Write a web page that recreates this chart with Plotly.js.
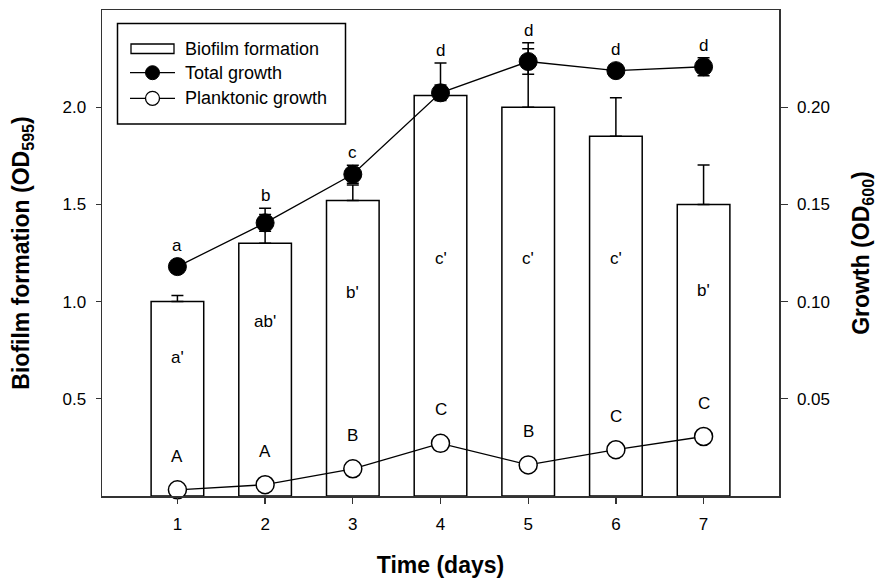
<!DOCTYPE html>
<html>
<head>
<meta charset="utf-8">
<script src="https://cdn.plot.ly/plotly-3.0.1.min.js"></script>
<style>
  html, body { margin: 0; padding: 0; background: #fff; }
  #chart { width: 877px; height: 579px; }
</style>
</head>
<body>
<div id="chart"></div>
<script>
// ---- Data ----
const days = [1, 2, 3, 4, 5, 6, 7];
const dayTickText = ['1', '2', '3', '4', '5', '6', '7'];

// Biofilm formation (OD595), left axis
const biofilm = [1.00, 1.30, 1.52, 2.06, 2.00, 1.85, 1.50];
const biofilmErr = [0.031, 0.18, 0.08, 0.168, 0.332, 0.199, 0.203];
const biofilmLetters = ["a'", "ab'", "b'", "c'", "c'", "c'", "b'"];

// Total growth (OD600), right axis
const totalGrowth = [0.118, 0.1405, 0.1655, 0.2074, 0.2235, 0.2188, 0.2208];
const totalErr = [0.003, 0.0043, 0.0046, 0.004, 0.0066, 0.003, 0.0046];
const totalLetters = ['a', 'b', 'c', 'd', 'd', 'd', 'd'];

// Planktonic growth (OD600), right axis
const planktonic = [0.0032, 0.0058, 0.0140, 0.0271, 0.0160, 0.0238, 0.0306];
const planktonicLetters = ['A', 'A', 'B', 'C', 'B', 'C', 'C'];

// Axis ticks
const leftTickVals = [0.5, 1.0, 1.5, 2.0];
const leftTickText = ['0.5', '1.0', '1.5', '2.0'];
const rightTickVals = [0.05, 0.10, 0.15, 0.20];
const rightTickText = ['0.05', '0.10', '0.15', '0.20'];

// Legend labels
const legendLabels = ['Biofilm formation', 'Total growth', 'Planktonic growth'];

// ---- Layout geometry (not data) ----
const W = 877, H = 579;
const M = { l: 102, r: 98, t: 10, b: 83 };
const plotW = W - M.l - M.r, plotH = H - M.t - M.b;
const Y1MAX = 2.5, Y2MAX = 0.25;
const bioLabelBaseline = [0.68, 0.864, 1.014, 1.19, 1.19, 1.19, 1.022]; // label placement, left-axis units
const FONT = 'Liberation Sans, Arial, Helvetica, sans-serif';
const AX = '#333333';
const px = x => (x - M.l) / plotW;
const py = y => 1 - (y - M.t) / plotH;

const traces = [
  {
    type: 'bar', x: days, y: biofilm, width: 0.6,
    marker: { color: '#ffffff', line: { color: '#000000', width: 1.5 } },
    error_y: { type: 'data', array: biofilmErr, arrayminus: days.map(() => 0), symmetric: false,
               color: '#000000', thickness: 1.5, width: 6 },
    xaxis: 'x', yaxis: 'y', name: legendLabels[0], hoverinfo: 'skip'
  },
  {
    type: 'scatter', mode: 'lines+markers', x: days, y: planktonic, yaxis: 'y2',
    line: { color: '#000000', width: 1.3 },
    marker: { size: 18, color: '#ffffff', line: { color: '#000000', width: 1.5 } },
    cliponaxis: false, name: legendLabels[2]
  },
  {
    type: 'scatter', mode: 'lines+markers', x: days, y: totalGrowth, yaxis: 'y2',
    line: { color: '#000000', width: 1.3 },
    marker: { size: 18, color: '#000000', line: { color: '#000000', width: 1 } },
    error_y: { type: 'data', array: totalErr, symmetric: true, color: '#000000', thickness: 1.5, width: 6 },
    cliponaxis: false, name: legendLabels[1]
  }
];

const annotations = [];
const markerR2 = 9 * Y2MAX / plotH; // marker radius in right-axis units
days.forEach((d, i) => {
  const top = Math.max(totalGrowth[i] + Math.max(totalErr[i], markerR2), (biofilm[i] + biofilmErr[i]) / 10);
  annotations.push({ x: d, y: top, xref: 'x', yref: 'y2', text: totalLetters[i], showarrow: false,
    yanchor: 'bottom', yshift: 1, font: { size: 17, color: '#000', family: FONT } });
  annotations.push({ x: d, y: bioLabelBaseline[i], xref: 'x', yref: 'y', text: biofilmLetters[i], showarrow: false,
    yanchor: 'bottom', yshift: -5, font: { size: 17, color: '#000', family: FONT } });
  annotations.push({ x: d, y: planktonic[i], xref: 'x', yref: 'y2', text: planktonicLetters[i], showarrow: false,
    yanchor: 'bottom', yshift: 22, font: { size: 17, color: '#000', family: FONT } });
});

// Custom legend (SigmaPlot style)
const legendRows = [49, 72.7, 98.3];
legendLabels.forEach((t, i) => {
  annotations.push({ x: px(183), y: py(legendRows[i]), xref: 'paper', yref: 'paper', text: t, showarrow: false,
    xanchor: 'left', yanchor: 'middle', font: { size: 18, color: '#000', family: FONT } });
});
const shapes = [
  { type: 'rect', xref: 'paper', yref: 'paper', x0: px(117.5), x1: px(345.5), y0: py(23.5), y1: py(124),
    line: { color: '#000', width: 1.5 }, fillcolor: 'rgba(0,0,0,0)' },
  { type: 'rect', xref: 'paper', yref: 'paper', x0: px(131), x1: px(174), y0: py(44), y1: py(53.5),
    line: { color: '#000', width: 1.3 }, fillcolor: '#fff' },
  { type: 'line', xref: 'paper', yref: 'paper', x0: px(130), x1: px(175), y0: py(legendRows[1]), y1: py(legendRows[1]),
    line: { color: '#000', width: 1.3 } },
  { type: 'line', xref: 'paper', yref: 'paper', x0: px(130), x1: px(175), y0: py(legendRows[2]), y1: py(legendRows[2]),
    line: { color: '#000', width: 1.3 } },
  { type: 'circle', xref: 'paper', yref: 'paper', xsizemode: 'pixel', ysizemode: 'pixel',
    xanchor: px(152.5), yanchor: py(legendRows[1]), x0: -7, x1: 7, y0: -7, y1: 7,
    line: { color: '#000', width: 1 }, fillcolor: '#000' },
  { type: 'circle', xref: 'paper', yref: 'paper', xsizemode: 'pixel', ysizemode: 'pixel',
    xanchor: px(152.5), yanchor: py(legendRows[2]), x0: -7, x1: 7, y0: -7, y1: 7,
    line: { color: '#000', width: 1.3 }, fillcolor: '#fff' }
];

const layout = {
  width: W, height: H,
  margin: M,
  paper_bgcolor: '#ffffff', plot_bgcolor: '#ffffff',
  showlegend: false,
  font: { family: FONT, color: '#000', size: 17 },
  xaxis: {
    range: [0.14, 7.86], tickvals: days, ticktext: dayTickText,
    ticks: 'outside', ticklen: 6, tickwidth: 1.3, tickcolor: AX,
    showline: true, linecolor: AX, linewidth: 1.5, mirror: true,
    showgrid: false, zeroline: false, tickfont: { size: 17 }, ticklabelstandoff: 6,
    title: { text: '<b>Time (days)</b>', font: { size: 23 }, standoff: 24 }
  },
  yaxis: {
    range: [0, Y1MAX], tickvals: leftTickVals, ticktext: leftTickText,
    ticks: 'outside', ticklen: 5, tickwidth: 1.3, tickcolor: AX,
    showline: true, linecolor: AX, linewidth: 1.5,
    showgrid: false, zeroline: false, tickfont: { size: 17 }, ticklabelstandoff: 6,
    title: { text: '<b>Biofilm formation (OD<sub>595</sub>)</b>', font: { size: 23 }, standoff: 26 }
  },
  yaxis2: {
    overlaying: 'y', side: 'right',
    range: [0, Y2MAX], tickvals: rightTickVals, ticktext: rightTickText,
    ticks: 'outside', ticklen: 7, tickwidth: 1.3, tickcolor: AX,
    showline: true, linecolor: AX, linewidth: 1.5,
    showgrid: false, zeroline: false, tickfont: { size: 17 }, ticklabelstandoff: 6,
    title: { text: '<b>Growth (OD<sub>600</sub>)</b>', font: { size: 23 }, standoff: 25 }
  },
  annotations: annotations,
  shapes: shapes
};

Plotly.newPlot('chart', traces, layout, { displayModeBar: false, staticPlot: true });
</script>
</body>
</html>
